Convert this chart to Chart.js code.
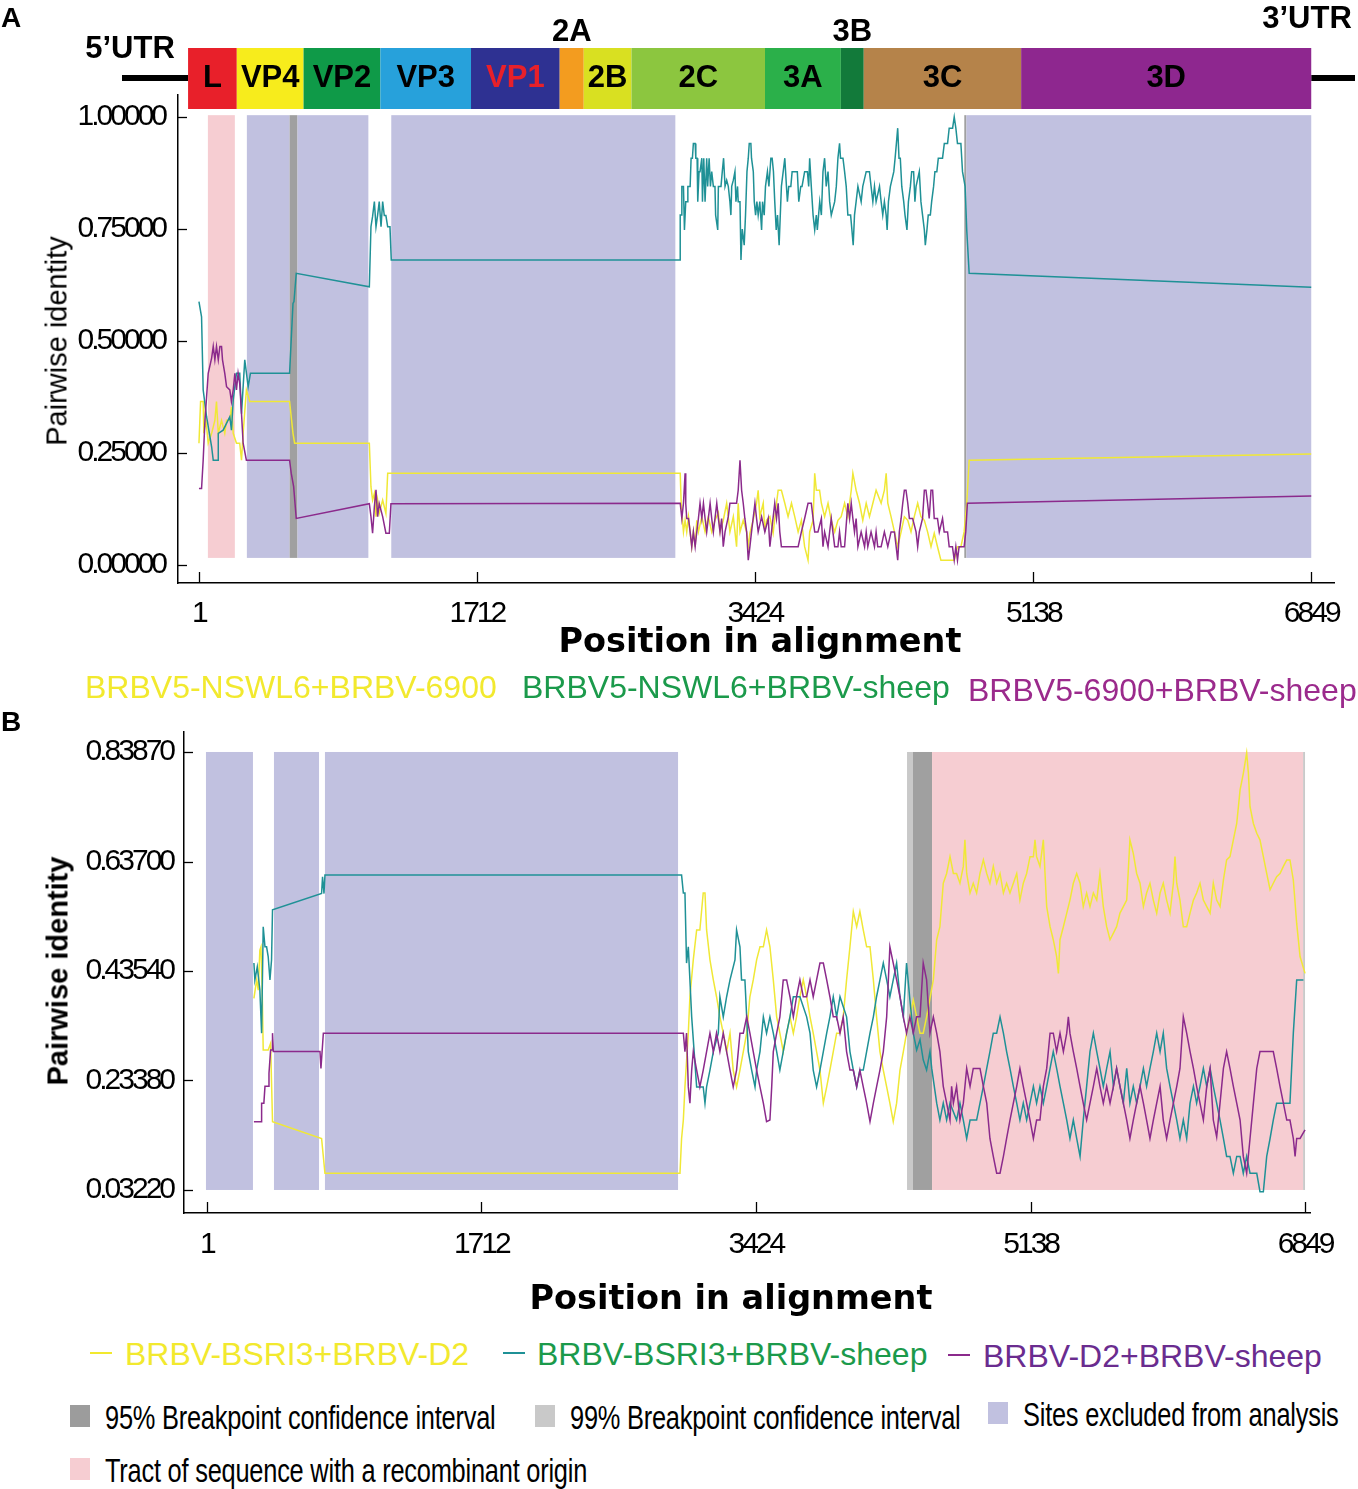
<!DOCTYPE html>
<html>
<head>
<meta charset="utf-8">
<title>Pairwise identity plots</title>
<script src="https://cdn.jsdelivr.net/npm/chart.js@4.4.1/dist/chart.umd.min.js"></script>
<style>
  body { margin: 0; background: #fff; }
  #page { position: relative; width: 1358px; height: 1489px; overflow: hidden; font-family: 'Liberation Sans', Arial, sans-serif; }
  canvas { position: absolute; left: 0; }
  .t { position: absolute; white-space: nowrap; line-height: 1; }
  .ytitle { transform: translate(-50%, -50%) rotate(-90deg); }
  .xtitle { transform: translateX(-50%); font-family: 'DejaVu Sans', sans-serif; font-weight: bold; font-size: 33.5px; }
  .leg { font-size: 32px; }
  .dash { position: absolute; width: 22px; height: 2px; }
  .sq { position: absolute; width: 20px; height: 22px; }
  .narrow { font-size: 33px; letter-spacing: -0.3px; transform: scaleX(0.77); transform-origin: 0 0; }
</style>
</head>
<body>
<div id="page">
  <canvas id="chartA" width="1358" height="670" style="top:0"></canvas>
  <canvas id="chartB" width="1358" height="610" style="top:700px"></canvas>

  <div class="t" style="left:1px;top:4px;font-weight:bold;font-size:28px">A</div>
  <div class="t" style="left:1px;top:708px;font-weight:bold;font-size:28px">B</div>

  <div class="t ytitle" style="left:57px;top:341px;font-size:29px">Pairwise identity</div>
  <div class="t ytitle" style="left:58px;top:971px;font-size:29px;font-weight:bold">Pairwise identity</div>
  <div class="t xtitle" style="left:760px;top:624px">Position in alignment</div>
  <div class="t xtitle" style="left:731px;top:1281px">Position in alignment</div>

  <div class="t leg" style="left:85px;top:671px;color:#f2e92e">BRBV5-NSWL6+BRBV-6900</div>
  <div class="t leg" style="left:522px;top:671px;color:#1b9a4b">BRBV5-NSWL6+BRBV-sheep</div>
  <div class="t leg" style="left:968px;top:674px;color:#9b2a8c">BRBV5-6900+BRBV-sheep</div>

  <div class="dash" style="left:90px;top:1352px;background:#f2e92e"></div>
  <div class="t leg" style="left:125px;top:1338px;color:#f2e92e">BRBV-BSRI3+BRBV-D2</div>
  <div class="dash" style="left:503px;top:1352px;background:#1f9196"></div>
  <div class="t leg" style="left:537px;top:1338px;color:#1b9a4b">BRBV-BSRI3+BRBV-sheep</div>
  <div class="dash" style="left:948px;top:1354px;background:#8b2a8c"></div>
  <div class="t leg" style="left:983px;top:1340px;color:#6a2c8f">BRBV-D2+BRBV-sheep</div>

  <div class="sq" style="left:70px;top:1405px;background:#9c9c9c"></div>
  <div class="t narrow" style="left:105px;top:1401px">95% Breakpoint confidence interval</div>
  <div class="sq" style="left:535px;top:1405px;background:#c9c9c9"></div>
  <div class="t narrow" style="left:570px;top:1401px">99% Breakpoint confidence interval</div>
  <div class="sq" style="left:988px;top:1402px;background:#c1c1e0"></div>
  <div class="t narrow" style="left:1023px;top:1398px">Sites excluded from analysis</div>
  <div class="sq" style="left:70px;top:1458px;background:#f6cdd2"></div>
  <div class="t narrow" style="left:105px;top:1454px">Tract of sequence with a recombinant origin</div>
</div>

<script>
// tick values
const posTicks = [1, 1712, 3424, 5138, 6849];
const idTicksA = [0, 0.25, 0.5, 0.75, 1];
const idTicksB = [0.0322, 0.2338, 0.4354, 0.637, 0.8387];

// genome map (alignment positions)
const genomeNames = ['L', 'VP4', 'VP2', 'VP3', 'VP1', '2A', '2B', '2C', '3A', '3B', '3C', '3D'];
const genomeStarts = [-66, 234, 645, 1118, 1676, 2222, 2370, 2664, 3486, 3953, 4094, 5063];
const genomeEnd = 6849;

// shaded regions [start, end, kind]
const bandsA = [[56, 222, 'tract'], [296, 559, 'excluded'], [559, 608, 'ci95'], [608, 1044, 'excluded'],
  [1185, 2934, 'excluded'], [4713, 4726, 'ci95'], [4726, 6849, 'excluded']];
const bandsB = [[-5, 288, 'excluded'], [419, 700, 'excluded'], [737, 2939, 'excluded'],
  [4367, 4404, 'ci99'], [4404, 4523, 'ci95'], [4523, 6837, 'tract'], [6837, 6849, 'ci99']];

// A: BRBV5-NSWL6+BRBV-6900
const aYellow = [[1,.272],[11,.365],[27,.365],[31,.294],[44,.323],[58,.272],[79,.294],[99,.323],[109,.365],[120,.294],
  [140,.323],[160,.294],[171,.323],[191,.323],[201,.353],[212,.294],[232,.272],[252,.272],[263,.234],[273,.294],[293,.391],
  [314,.365],[559,.365],[580,.294],[590,.272],[1050,.272],[1060,.175],[1070,.145],[1081,.16],[1091,.108],[1101,.145],
  [1111,.115],[1132,.145],[1152,.115],[1163,.205],[1183,.205],[2964,.205],[2970,.138],[2978,.100],[2984,.074],[2994,.100],
  [3004,.074],[3015,.108],[3025,.074],[3035,.041],[3045,.074],[3056,.041],[3066,.100],[3076,.074],[3097,.108],[3117,.074],
  [3137,.108],[3158,.074],[3178,.100],[3199,.117],[3209,.074],[3229,.100],[3250,.138],[3270,.074],[3291,.108],[3311,.041],
  [3321,.138],[3332,.074],[3352,.100],[3373,.074],[3383,.041],[3393,.071],[3413,.100],[3434,.138],[3444,.167],[3454,.108],
  [3475,.138],[3485,.074],[3495,.100],[3516,.108],[3536,.071],[3557,.138],[3567,.167],[3587,.167],[3608,.138],[3628,.108],
  [3649,.138],[3669,.108],[3690,.074],[3710,.100],[3730,.041],[3751,.011],[3761,.074],[3782,.100],[3792,.205],[3802,.167],
  [3822,.167],[3833,.138],[3853,.108],[3874,.138],[3894,.100],[3915,.074],[3935,.100],[3955,.108],[3976,.138],[3996,.108],
  [4017,.167],[4027,.205],[4047,.167],[4068,.138],[4088,.100],[4109,.138],[4129,.108],[4150,.138],[4170,.167],[4201,.138],
  [4221,.167],[4232,.205],[4242,.138],[4262,.108],[4283,.074],[4303,.041],[4324,.074],[4344,.108],[4365,.100],[4385,.074],
  [4405,.108],[4426,.138],[4446,.108],[4467,.100],[4487,.074],[4508,.041],[4528,.071],[4548,.041],[4569,.011],[4589,.011],
  [4620,.011],[4651,.011],[4671,.041],[4692,.041],[4712,.074],[4728,.138],[4743,.234],[6849,.248]];

// A: BRBV5-NSWL6+BRBV-sheep
const aTeal = [[1,.588],[17,.554],[27,.391],[48,.331],[79,.264],[89,.234],[120,.234],[120,.294],[150,.301],[191,.331],
  [201,.301],[212,.368],[232,.428],[252,.428],[263,.338],[283,.458],[304,.398],[318,.428],[559,.428],[580,.584],[586,.588],
  [600,.651],[1050,.621],[1060,.755],[1070,.778],[1081,.811],[1091,.755],[1101,.781],[1111,.811],[1122,.755],[1132,.811],
  [1142,.78],[1152,.78],[1163,.755],[1177,.755],[1185,.681],[2964,.681],[2964,.781],[2974,.781],[2974,.845],[2984,.845],
  [2990,.748],[2998,.811],[3011,.811],[3011,.845],[3025,.845],[3031,.908],[3039,.908],[3045,.941],[3056,.941],[3060,.908],
  [3068,.908],[3072,.811],[3080,.878],[3086,.878],[3097,.908],[3101,.811],[3109,.908],[3117,.811],[3127,.908],[3133,.845],
  [3142,.908],[3150,.845],[3158,.878],[3168,.845],[3178,.845],[3182,.781],[3195,.748],[3199,.845],[3215,.845],[3223,.878],
  [3231,.908],[3240,.845],[3250,.859],[3260,.845],[3270,.811],[3276,.781],[3281,.845],[3291,.859],[3301,.878],[3307,.811],
  [3317,.845],[3321,.811],[3332,.811],[3338,.681],[3346,.75],[3358,.714],[3366,.781],[3375,.878],[3383,.908],[3389,.941],
  [3399,.941],[3403,.908],[3414,.878],[3420,.811],[3428,.781],[3436,.811],[3444,.781],[3454,.811],[3465,.748],[3471,.811],
  [3481,.781],[3489,.845],[3501,.878],[3510,.845],[3522,.908],[3530,.908],[3538,.878],[3546,.811],[3555,.748],[3563,.781],
  [3573,.714],[3587,.845],[3598,.878],[3608,.908],[3618,.845],[3624,.811],[3632,.845],[3645,.845],[3653,.878],[3685,.878],
  [3694,.811],[3706,.845],[3714,.845],[3730,.878],[3747,.878],[3755,.845],[3761,.908],[3771,.845],[3782,.781],[3792,.748],
  [3802,.781],[3808,.748],[3823,.811],[3833,.781],[3843,.878],[3853,.908],[3863,.845],[3874,.878],[3884,.811],[3894,.781],
  [3915,.811],[3925,.845],[3935,.908],[3945,.941],[3951,.908],[3966,.908],[3976,.878],[3986,.845],[3996,.781],[4013,.781],
  [4021,.748],[4029,.714],[4037,.781],[4047,.811],[4058,.845],[4078,.811],[4088,.845],[4109,.878],[4129,.878],[4139,.845],
  [4150,.811],[4160,.845],[4170,.811],[4191,.845],[4201,.811],[4211,.781],[4221,.811],[4232,.781],[4238,.748],[4246,.811],
  [4258,.845],[4279,.878],[4287,.908],[4295,.941],[4303,.975],[4311,.908],[4319,.908],[4328,.845],[4340,.811],[4348,.781],
  [4360,.748],[4369,.811],[4381,.845],[4389,.878],[4401,.878],[4409,.811],[4416,.845],[4436,.878],[4446,.811],[4456,.781],
  [4467,.748],[4473,.714],[4483,.748],[4491,.781],[4504,.781],[4512,.811],[4524,.845],[4532,.878],[4544,.878],[4553,.908],
  [4579,.908],[4590,.941],[4610,.941],[4620,.975],[4641,.975],[4651,1.0],[4661,.975],[4671,.941],[4692,.941],[4702,.878],
  [4718,.845],[4728,.748],[4743,.651],[6849,.62]];

// A: BRBV5-6900+BRBV-sheep
const aPurple = [[1,.171],[17,.171],[27,.234],[38,.323],[58,.428],[79,.462],[89,.488],[99,.458],[109,.488],[120,.458],
  [130,.488],[140,.488],[146,.458],[160,.428],[171,.398],[191,.391],[201,.365],[212,.391],[222,.428],[232,.391],[242,.428],
  [252,.405],[263,.338],[273,.272],[293,.234],[559,.234],[569,.205],[584,.175],[600,.104],[1050,.137],[1060,.108],[1070,.071],
  [1081,.130],[1091,.168],[1101,.108],[1111,.137],[1132,.108],[1152,.071],[1173,.071],[1183,.137],[2964,.138],[2974,.104],
  [2984,.138],[2994,.205],[2998,.138],[3004,.104],[3015,.104],[3025,.074],[3035,.041],[3045,.074],[3056,.041],[3066,.074],
  [3076,.104],[3086,.138],[3097,.104],[3107,.138],[3117,.104],[3127,.074],[3137,.104],[3148,.138],[3158,.104],[3168,.074],
  [3178,.104],[3189,.138],[3199,.104],[3209,.074],[3219,.104],[3229,.041],[3240,.074],[3260,.108],[3270,.138],[3311,.138],
  [3321,.167],[3332,.234],[3342,.167],[3352,.138],[3362,.104],[3373,.074],[3383,.011],[3393,.041],[3403,.074],[3413,.104],
  [3424,.138],[3434,.104],[3444,.074],[3465,.108],[3485,.074],[3506,.104],[3516,.041],[3526,.074],[3546,.138],[3557,.104],
  [3567,.138],[3577,.074],[3587,.041],[3690,.041],[3710,.074],[3730,.104],[3751,.138],[3771,.138],[3782,.104],[3792,.074],
  [3812,.074],[3833,.104],[3843,.041],[3853,.074],[3874,.041],[3884,.074],[3894,.104],[3915,.041],[3935,.041],[3945,.074],
  [3955,.041],[3976,.041],[3996,.138],[4007,.104],[4017,.138],[4027,.104],[4037,.074],[4047,.104],[4058,.041],[4078,.074],
  [4099,.041],[4109,.074],[4119,.041],[4139,.074],[4160,.041],[4170,.074],[4180,.041],[4201,.041],[4221,.074],[4242,.041],
  [4262,.074],[4283,.074],[4303,.011],[4313,.074],[4324,.104],[4334,.138],[4344,.167],[4354,.167],[4365,.138],[4375,.104],
  [4395,.104],[4416,.074],[4426,.041],[4436,.074],[4456,.104],[4467,.167],[4477,.167],[4487,.138],[4497,.104],[4508,.167],
  [4518,.167],[4528,.104],[4548,.104],[4559,.074],[4579,.104],[4589,.074],[4610,.074],[4620,.041],[4640,.041],[4651,.011],
  [4661,.041],[4671,.011],[4681,.041],[4712,.041],[4722,.074],[4732,.138],[6849,.154]];

// B: BRBV-BSRI3+BRBV-D2
const bYellow = [[294,.385],[311,.419],[321,.400],[331,.474],[338,.480],[346,.395],[352,.290],[383,.290],[398,.302],
  [410,.158],[716,.127],[737,.063],[2951,.063],[2961,.127],[2972,.161],[2982,.222],[3003,.321],[3013,.388],[3034,.456],
  [3055,.511],[3075,.511],[3096,.579],[3107,.579],[3117,.511],[3138,.456],[3159,.419],[3179,.388],[3200,.351],[3221,.321],
  [3242,.287],[3263,.321],[3283,.253],[3304,.222],[3325,.253],[3346,.287],[3367,.321],[3387,.388],[3408,.419],[3429,.456],
  [3450,.480],[3471,.480],[3491,.511],[3512,.480],[3533,.419],[3554,.351],[3574,.321],[3595,.287],[3616,.321],[3637,.351],
  [3658,.321],[3678,.351],[3699,.388],[3720,.419],[3741,.388],[3762,.351],[3782,.321],[3803,.287],[3824,.253],[3845,.192],
  [3866,.222],[3886,.253],[3907,.287],[3928,.321],[3949,.321],[3969,.351],[3990,.419],[4011,.480],[4032,.545],[4053,.517],
  [4073,.545],[4094,.511],[4115,.480],[4136,.480],[4157,.419],[4177,.351],[4198,.287],[4219,.253],[4240,.222],[4260,.192],
  [4281,.158],[4302,.192],[4323,.253],[4344,.287],[4364,.321],[4385,.351],[4406,.382],[4427,.351],[4448,.321],[4468,.321],
  [4489,.351],[4520,.401],[4531,.419],[4552,.493],[4572,.517],[4593,.597],[4614,.615],[4635,.646],[4656,.615],[4676,.615],
  [4697,.597],[4718,.628],[4728,.677],[4739,.615],[4760,.579],[4780,.597],[4801,.579],[4822,.615],[4843,.640],[4864,.615],
  [4884,.597],[4905,.628],[4926,.597],[4947,.615],[4968,.579],[4988,.597],[5009,.579],[5030,.597],[5051,.615],[5071,.566],
  [5092,.597],[5113,.615],[5134,.646],[5155,.646],[5165,.677],[5175,.646],[5196,.628],[5217,.677],[5238,.554],[5259,.517],
  [5279,.493],[5300,.462],[5311,.431],[5321,.493],[5342,.517],[5363,.542],[5383,.566],[5404,.597],[5425,.615],[5446,.597],
  [5466,.554],[5487,.579],[5508,.554],[5529,.579],[5550,.566],[5570,.615],[5591,.554],[5612,.517],[5633,.493],[5654,.505],
  [5674,.517],[5695,.542],[5716,.554],[5737,.566],[5757,.677],[5778,.652],[5799,.615],[5820,.597],[5841,.554],[5861,.579],
  [5882,.597],[5903,.566],[5924,.542],[5945,.579],[5965,.597],[5986,.566],[6007,.542],[6028,.597],[6038,.646],[6049,.597],
  [6069,.566],[6090,.517],[6111,.517],[6132,.542],[6153,.566],[6173,.579],[6194,.597],[6215,.566],[6236,.554],[6257,.542],
  [6277,.597],[6298,.566],[6319,.554],[6340,.603],[6360,.640],[6381,.646],[6402,.677],[6423,.707],[6444,.769],[6464,.799],
  [6485,.837],[6496,.799],[6506,.738],[6527,.707],[6548,.689],[6568,.677],[6589,.646],[6610,.615],[6631,.585],[6651,.597],
  [6672,.609],[6693,.615],[6714,.628],[6735,.640],[6755,.640],[6776,.603],[6797,.523],[6818,.462],[6849,.431]];

// B: BRBV-BSRI3+BRBV-sheep
const bTeal = [[294,.450],[300,.419],[315,.443],[331,.401],[342,.321],[352,.517],[363,.480],[373,.480],[383,.462],
  [394,.419],[404,.456],[410,.548],[716,.578],[722,.609],[731,.578],[737,.612],[2961,.612],[2972,.579],[2982,.579],
  [2992,.450],[3003,.480],[3013,.419],[3024,.351],[3055,.222],[3096,.222],[3107,.192],[3117,.222],[3138,.253],[3159,.287],
  [3190,.321],[3200,.388],[3221,.351],[3242,.388],[3263,.419],[3294,.456],[3304,.511],[3325,.480],[3335,.419],[3356,.419],
  [3367,.351],[3377,.287],[3398,.253],[3419,.222],[3429,.253],[3450,.287],[3471,.351],[3491,.321],[3512,.351],[3533,.321],
  [3554,.287],[3574,.253],[3595,.287],[3616,.321],[3637,.351],[3658,.388],[3699,.388],[3741,.351],[3762,.321],[3782,.253],
  [3803,.222],[3824,.253],[3845,.287],[3866,.321],[3886,.351],[3907,.388],[3928,.351],[3949,.388],[3990,.351],[4011,.287],
  [4032,.253],[4053,.222],[4073,.253],[4094,.253],[4115,.287],[4136,.321],[4157,.351],[4177,.388],[4198,.419],[4219,.450],
  [4240,.419],[4260,.388],[4281,.419],[4302,.450],[4323,.388],[4344,.351],[4364,.450],[4385,.382],[4406,.321],[4427,.290],
  [4448,.309],[4468,.272],[4489,.253],[4510,.287],[4521,.256],[4552,.192],[4572,.161],[4593,.192],[4614,.161],[4635,.192],
  [4676,.161],[4697,.192],[4718,.161],[4739,.127],[4760,.161],[4801,.161],[4822,.192],[4843,.223],[4864,.256],[4884,.287],
  [4905,.321],[4926,.321],[4947,.351],[4968,.321],[4988,.287],[5009,.256],[5030,.223],[5051,.192],[5071,.161],[5092,.192],
  [5113,.161],[5134,.192],[5155,.223],[5175,.192],[5196,.223],[5217,.192],[5238,.223],[5259,.256],[5279,.287],[5300,.256],
  [5321,.223],[5342,.192],[5363,.161],[5383,.127],[5404,.161],[5425,.127],[5446,.094],[5466,.161],[5487,.223],[5508,.287],
  [5529,.321],[5550,.287],[5570,.256],[5591,.223],[5612,.256],[5633,.287],[5654,.223],[5674,.256],[5695,.223],[5716,.192],
  [5737,.256],[5757,.192],[5778,.223],[5799,.192],[5820,.223],[5841,.256],[5861,.223],[5882,.256],[5903,.287],[5924,.321],
  [5945,.287],[5965,.321],[5986,.256],[6007,.223],[6028,.192],[6049,.161],[6069,.127],[6090,.161],[6111,.127],[6132,.192],
  [6153,.223],[6173,.192],[6194,.223],[6215,.256],[6236,.223],[6257,.256],[6277,.223],[6298,.192],[6319,.161],[6340,.127],
  [6360,.094],[6381,.094],[6402,.063],[6423,.094],[6444,.094],[6464,.063],[6485,.094],[6506,.063],[6527,.063],[6548,.063],
  [6568,.029],[6589,.029],[6610,.094],[6631,.127],[6651,.161],[6672,.192],[6714,.192],[6755,.192],[6776,.321],[6797,.419],
  [6839,.419]];

// B: BRBV-D2+BRBV-sheep
const bPurple = [[294,.158],[342,.158],[342,.192],[356,.192],[363,.223],[383,.223],[388,.247],[398,.290],[410,.290],
  [410,.321],[415,.287],[706,.287],[712,.256],[727,.321],[2972,.321],[2982,.287],[2992,.321],[3003,.222],[3013,.192],
  [3024,.253],[3034,.287],[3055,.253],[3075,.222],[3096,.253],[3117,.287],[3138,.321],[3159,.287],[3179,.321],[3200,.287],
  [3221,.321],[3242,.287],[3263,.253],[3283,.222],[3304,.253],[3325,.321],[3346,.321],[3367,.351],[3387,.321],[3408,.287],
  [3429,.253],[3450,.222],[3471,.192],[3491,.158],[3512,.161],[3523,.222],[3533,.287],[3554,.321],[3574,.351],[3595,.419],
  [3616,.419],[3637,.388],[3658,.351],[3678,.388],[3699,.419],[3720,.388],[3741,.388],[3762,.419],[3782,.388],[3803,.419],
  [3824,.450],[3845,.450],[3866,.419],[3886,.388],[3907,.351],[3928,.351],[3949,.321],[3969,.351],[3990,.287],[4011,.253],
  [4032,.253],[4053,.222],[4073,.253],[4094,.222],[4115,.192],[4136,.158],[4157,.192],[4177,.222],[4198,.253],[4219,.287],
  [4240,.351],[4260,.480],[4281,.450],[4302,.419],[4323,.388],[4344,.351],[4364,.321],[4385,.351],[4406,.321],[4427,.351],
  [4448,.351],[4468,.450],[4489,.419],[4510,.321],[4531,.351],[4552,.321],[4572,.287],[4593,.223],[4614,.192],[4635,.161],
  [4645,.223],[4656,.192],[4676,.223],[4697,.161],[4718,.192],[4739,.256],[4760,.223],[4780,.256],[4822,.256],[4843,.223],
  [4864,.192],[4884,.127],[4905,.094],[4926,.063],[4947,.063],[4968,.094],[4988,.127],[5009,.161],[5030,.192],[5051,.223],
  [5071,.256],[5092,.223],[5113,.192],[5134,.161],[5155,.127],[5175,.161],[5196,.161],[5217,.223],[5238,.256],[5259,.321],
  [5279,.321],[5300,.287],[5321,.321],[5342,.287],[5363,.321],[5373,.351],[5383,.321],[5404,.287],[5425,.256],[5446,.223],
  [5466,.192],[5487,.161],[5508,.192],[5529,.223],[5550,.256],[5570,.223],[5591,.192],[5612,.223],[5633,.192],[5654,.223],
  [5674,.256],[5695,.223],[5716,.192],[5737,.161],[5757,.127],[5778,.161],[5799,.192],[5820,.223],[5841,.192],[5861,.161],
  [5882,.127],[5903,.161],[5924,.192],[5945,.223],[5965,.161],[5986,.127],[6007,.161],[6028,.192],[6049,.223],[6069,.256],
  [6090,.351],[6111,.321],[6132,.287],[6153,.256],[6173,.223],[6194,.192],[6215,.161],[6236,.223],[6257,.256],[6277,.161],
  [6298,.130],[6319,.192],[6340,.256],[6360,.287],[6381,.256],[6402,.223],[6423,.192],[6444,.161],[6464,.094],[6485,.063],
  [6506,.127],[6527,.192],[6548,.256],[6568,.287],[6651,.287],[6672,.256],[6693,.223],[6714,.192],[6735,.161],[6755,.161],
  [6776,.127],[6787,.094],[6797,.127],[6818,.127],[6849,.143]];

const YELLOW = '#f0e836', TEAL = '#1f9196', PURPLE = '#8b2a8c';
const kindColor = { excluded: '#c1c1e0', tract: '#f6cdd2', ci95: '#a0a0a0', ci99: '#c9c9c9' };
const genomeColors = ['#e8202a', '#f7ec1c', '#0f9a48', '#27a1db', '#2e3192', '#f39c1f', '#d9e021', '#8cc63f',
  '#2bb04a', '#127a3a', '#b5834a', '#8e278f'];
const tickFont = { family: "'Liberation Sans', Arial, sans-serif", size: 30 };

function line(points, color) {
  return {
    data: points.map(function(p) { return { x: p[0], y: p[1] }; }),
    borderColor: color, borderWidth: 1.5, pointRadius: 0, tension: 0, fill: false
  };
}

function bandPlugin(bands, top, bottom) {
  return {
    id: 'bands',
    beforeDatasetsDraw: function(chart) {
      var ctx = chart.ctx, x = chart.scales.x, y = chart.scales.y;
      var yt = y.getPixelForValue(top), yb = y.getPixelForValue(bottom);
      ctx.save();
      bands.forEach(function(b) {
        var x0 = x.getPixelForValue(b[0]), x1 = x.getPixelForValue(b[1]);
        ctx.fillStyle = kindColor[b[2]];
        ctx.fillRect(x0, yt, x1 - x0, yb - yt);
      });
      ctx.restore();
    }
  };
}

// inward tick marks + tight tick labels
const tickPlugin = {
  id: 'tickMarks',
  beforeDraw: function(chart) { chart.ctx.letterSpacing = '-3px'; },
  afterDraw: function(chart) {
    var ctx = chart.ctx, a = chart.chartArea, x = chart.scales.x, y = chart.scales.y;
    ctx.letterSpacing = '0px';
    ctx.save();
    ctx.strokeStyle = '#000';
    ctx.lineWidth = 1.3;
    x.ticks.forEach(function(t) {
      var px = Math.round(x.getPixelForValue(t.value)) + 0.5;
      ctx.beginPath(); ctx.moveTo(px, a.bottom); ctx.lineTo(px, a.bottom - 11); ctx.stroke();
    });
    y.ticks.forEach(function(t) {
      var py = Math.round(y.getPixelForValue(t.value)) + 0.5;
      ctx.beginPath(); ctx.moveTo(a.left, py); ctx.lineTo(a.left + 9, py); ctx.stroke();
    });
    ctx.restore();
  }
};

// genome organisation drawn on panel A's position scale
const genomePlugin = {
  id: 'genome',
  afterDraw: function(chart) {
    var ctx = chart.ctx, x = chart.scales.x;
    ctx.save();
    ctx.letterSpacing = '0px';
    ctx.fillStyle = '#000';
    ctx.fillRect(122, 75, x.getPixelForValue(genomeStarts[0]) - 122, 6);
    ctx.fillRect(x.getPixelForValue(genomeEnd), 75, 1355 - x.getPixelForValue(genomeEnd), 6);
    ctx.font = "bold 31px 'Liberation Sans', Arial, sans-serif";
    ctx.textAlign = 'center';
    ctx.textBaseline = 'middle';
    genomeNames.forEach(function(name, i) {
      var x0 = x.getPixelForValue(genomeStarts[i]);
      var x1 = x.getPixelForValue(i + 1 < genomeStarts.length ? genomeStarts[i + 1] : genomeEnd);
      ctx.fillStyle = genomeColors[i];
      ctx.fillRect(x0, 48, x1 - x0, 61);
      ctx.fillStyle = name === 'VP1' ? '#e8202a' : '#000';
      if (name === '2A' || name === '3B') {
        ctx.fillStyle = '#000';
        ctx.fillText(name, (x0 + x1) / 2, 32);
      } else {
        ctx.fillText(name, (x0 + x1) / 2, 78);
      }
    });
    ctx.fillStyle = '#000';
    ctx.fillText('5\u2019UTR', 130, 49);
    ctx.fillText('3\u2019UTR', 1307, 19);
    ctx.restore();
  }
};

function makeChart(id, series, opts) {
  return new Chart(document.getElementById(id), {
    type: 'line',
    data: { datasets: series },
    options: {
      responsive: false,
      animation: false,
      layout: { padding: opts.padding, autoPadding: false },
      plugins: { legend: { display: false }, tooltip: { enabled: false } },
      scales: {
        x: {
          type: 'linear', min: opts.xMin, max: opts.xMax,
          grid: { display: false, drawTicks: false },
          border: { display: true, color: '#000', width: 1.5 },
          afterBuildTicks: function(s) { s.ticks = posTicks.map(function(v) { return { value: v }; }); },
          afterFit: function(s) { s.height = opts.xHeight; },
          ticks: { autoSkip: false, maxRotation: 0, padding: opts.xPad, color: '#000', font: tickFont,
            callback: function(v) { return String(v); } }
        },
        y: {
          type: 'linear', min: opts.yMin, max: opts.yMax,
          grid: { display: false, drawTicks: false },
          border: { display: true, color: '#000', width: 1.5 },
          afterBuildTicks: function(s) { s.ticks = opts.yTicks.map(function(v) { return { value: v }; }); },
          afterFit: function(s) { s.width = opts.yWidth; },
          ticks: { padding: opts.yPad, color: '#000', font: tickFont,
            callback: function(v) { return Number(v).toFixed(5); } }
        }
      }
    },
    plugins: opts.plugins
  });
}

makeChart('chartA', [line(aPurple, PURPLE), line(aTeal, TEAL), line(aYellow, YELLOW)], {
  padding: { top: 95, right: 20, bottom: 0, left: 0 },
  xMin: -128, xMax: 6990, yMin: -0.04, yMax: 1.049,
  xHeight: 87, yWidth: 178, xPad: 13, yPad: 13, yTicks: idTicksA,
  plugins: [bandPlugin(bandsA, 1.004, 0.016), tickPlugin, genomePlugin]
});

makeChart('chartB', [line(bPurple, PURPLE), line(bTeal, TEAL), line(bYellow, YELLOW)], {
  padding: { top: 32, right: 48, bottom: 0, left: 0 },
  xMin: -142, xMax: 6880, yMin: -0.0102, yMax: 0.8755,
  xHeight: 97, yWidth: 184, xPad: 14, yPad: 11, yTicks: idTicksB,
  plugins: [bandPlugin(bandsB, 0.8387, 0.0322), tickPlugin]
});
</script>
</body>
</html>
